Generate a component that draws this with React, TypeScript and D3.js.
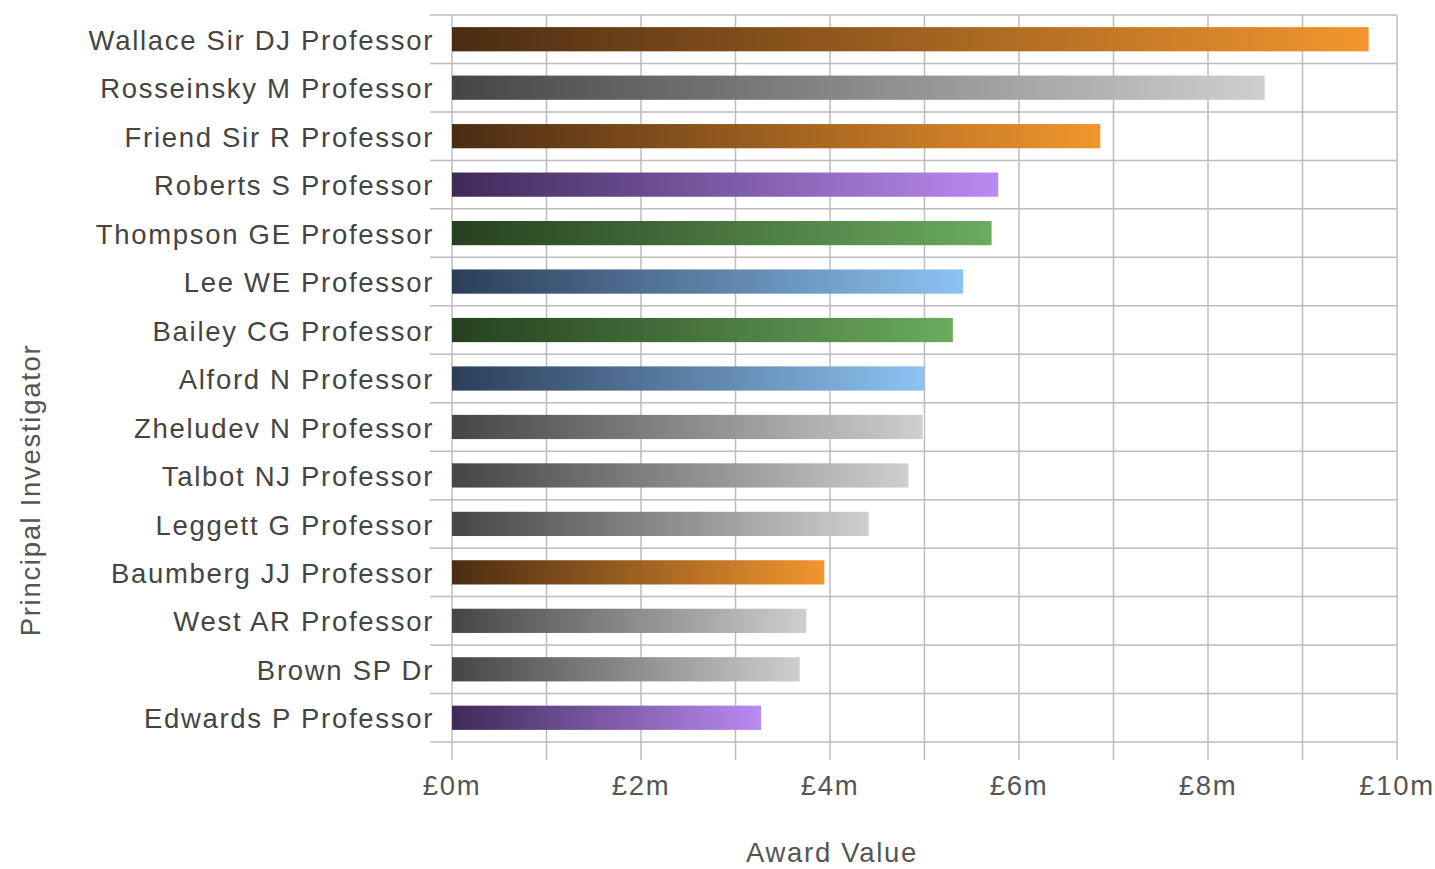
import React from "react";
import * as d3 from "d3";

const investigators = [
  "Wallace Sir DJ Professor",
  "Rosseinsky M Professor",
  "Friend Sir R Professor",
  "Roberts S Professor",
  "Thompson GE Professor",
  "Lee WE Professor",
  "Bailey CG Professor",
  "Alford N Professor",
  "Zheludev N Professor",
  "Talbot NJ Professor",
  "Leggett G Professor",
  "Baumberg JJ Professor",
  "West AR Professor",
  "Brown SP Dr",
  "Edwards P Professor",
];
const awardValues = [9.7, 8.6, 6.86, 5.78, 5.71, 5.41, 5.3, 5.0, 4.98, 4.83, 4.41, 3.94, 3.75, 3.68, 3.27];
const colorGroups = ["orange", "gray", "orange", "purple", "green", "blue", "green", "blue", "gray", "gray", "gray", "orange", "gray", "gray", "purple"];
const xTicks = [0, 2, 4, 6, 8, 10];

const palette: Record<string, [string, string]> = {
  orange: ["#4a2c12", "#f2962e"],
  gray: ["#454545", "#cfcfcf"],
  purple: ["#3e2a58", "#bb8af2"],
  green: ["#26401f", "#6aab5e"],
  blue: ["#2b3e58", "#8cc3f2"],
};

export default function App() {
  const W = 1435, H = 869;
  const left = 452, right = 1397, top = 15, bottom = 742;
  const x = d3.scaleLinear().domain([0, 10]).range([left, right]);
  const y = d3.scaleBand().domain(investigators).range([top, bottom]).paddingInner(0.5).paddingOuter(0.25);
  const band = (bottom - top) / investigators.length;
  const grid = "#bdbdbd";
  const font = "'Liberation Sans', Arial, sans-serif";
  const fs = 27.5;
  const ls = 1.7;
  const minor = d3.range(0, 11);
  return (
    <svg width={W} height={H} style={{ position: "absolute", left: 0, top: 0 }}>
      <defs>
        {Object.entries(palette).map(([k, [a, b]]) => (
          <linearGradient key={k} id={`g-${k}`} x1="0" x2="1" y1="0" y2="0">
            <stop offset="0" stopColor={a} />
            <stop offset="1" stopColor={b} />
          </linearGradient>
        ))}
      </defs>
      <rect width={W} height={H} fill="#fff" />
      {minor.map((v) => (
        <line key={"v" + v} x1={x(v)} x2={x(v)} y1={top} y2={bottom + 18} stroke={grid} strokeWidth={1.5} />
      ))}
      {d3.range(0, investigators.length + 1).map((i) => (
        <line key={"h" + i} x1={430} x2={right} y1={top + i * band} y2={top + i * band} stroke={grid} strokeWidth={1.5} />
      ))}
      {investigators.map((name, i) => (
        <rect
          key={name}
          x={x(0)}
          y={y(name)!}
          width={x(awardValues[i]) - x(0)}
          height={y.bandwidth()}
          fill={`url(#g-${colorGroups[i]})`}
        />
      ))}
      {investigators.map((name) => (
        <text key={"l" + name} x={434} y={y(name)! + y.bandwidth() / 2 + 1} dy="0.35em" textAnchor="end" fontFamily={font} fontSize={fs} letterSpacing={ls} fill="#444">
          {name}
        </text>
      ))}
      {xTicks.map((v) => (
        <text key={"t" + v} x={x(v)} y={795} textAnchor="middle" fontFamily={font} fontSize={fs} letterSpacing={ls} fill="#555">
          {`£${v}m`}
        </text>
      ))}
      <text x={832} y={862} textAnchor="middle" fontFamily={font} fontSize={fs} letterSpacing={ls} fill="#555">Award Value</text>
      <text transform={`translate(40,${490}) rotate(-90)`} textAnchor="middle" fontFamily={font} fontSize={fs} letterSpacing={ls} fill="#555">Principal Investigator</text>
    </svg>
  );
}
